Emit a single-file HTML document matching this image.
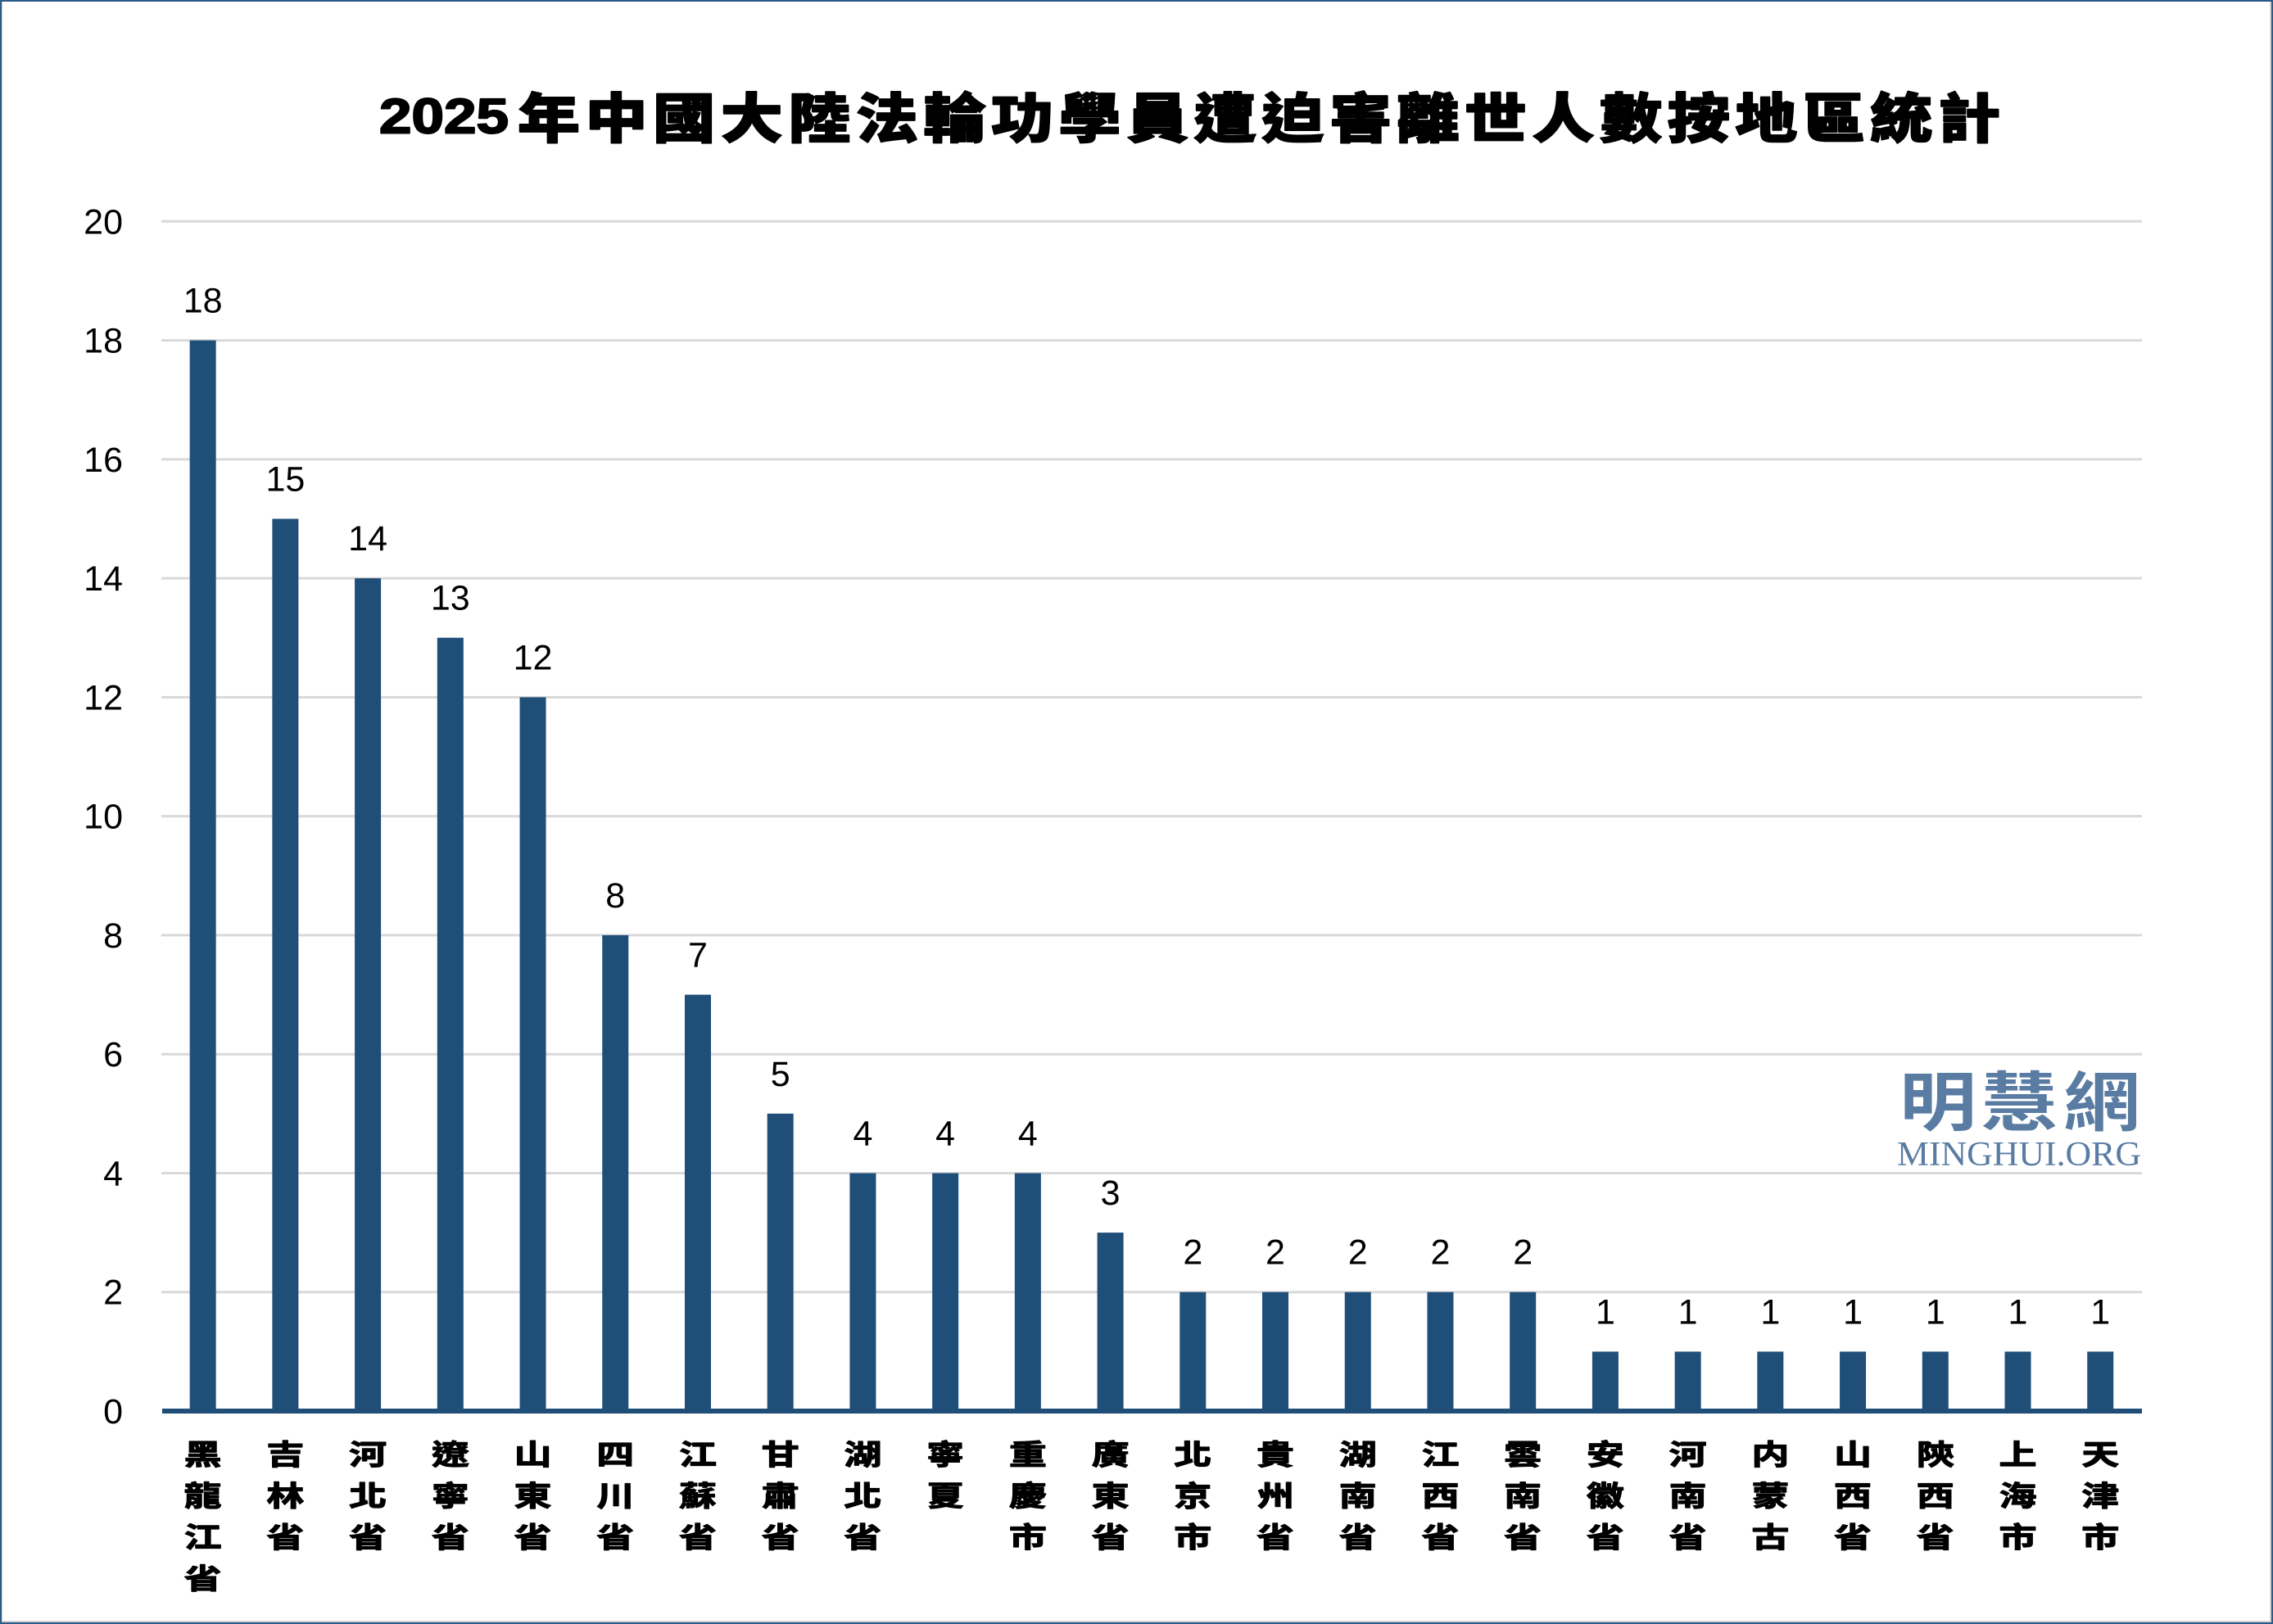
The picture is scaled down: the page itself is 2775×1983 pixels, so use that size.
<!DOCTYPE html>
<html><head><meta charset="utf-8"><style>
html,body{margin:0;padding:0;background:#fff;}
svg{display:block;}
</style></head><body>
<svg width="2775" height="1983" viewBox="0 0 2775 1983" xmlns="http://www.w3.org/2000/svg">
<rect x="0" y="0" width="2775" height="1983" fill="#ffffff"/>
<!-- border -->
<rect x="2771" y="0" width="2" height="1983" fill="#d4d4d4"/>
<rect x="0" y="1979" width="2775" height="2" fill="#d4d4d4"/>
<rect x="2" y="0" width="1" height="1983" fill="#d4d4d4"/>
<rect x="1" y="1" width="2773" height="1981" fill="none" stroke="#2a5a88" stroke-width="2"/>

<!-- title -->
<text x="463" y="162.7" font-family="'Liberation Sans', sans-serif" font-weight="700" font-size="60" textLength="158" lengthAdjust="spacingAndGlyphs" fill="#000" stroke="#000" stroke-width="2" stroke-linejoin="round">2025</text>
<g transform="scale(1,0.86)">
<text y="195.16" x="670 752.57 835.14 917.71 1000.28 1082.85 1165.42 1247.99 1330.56 1413.13 1495.7 1578.27 1660.84 1743.41 1825.98 1908.55 1991.12 2073.69 2156.26 2238.83 2321.4 2403.97" text-anchor="middle" font-family="'Liberation Sans','Noto Sans CJK TC',sans-serif" font-weight="900" font-size="76" fill="#000" stroke="#000" stroke-width="2" stroke-linejoin="round">年中國大陸法輪功學員遭迫害離世人數按地區統計</text>
</g>

<!-- gridlines -->
<g stroke="#d9d9d9" stroke-width="3">
<line x1="197" y1="270.3" x2="2615" y2="270.3"/>
<line x1="197" y1="415.57" x2="2615" y2="415.57"/>
<line x1="197" y1="560.84" x2="2615" y2="560.84"/>
<line x1="197" y1="706.11" x2="2615" y2="706.11"/>
<line x1="197" y1="851.38" x2="2615" y2="851.38"/>
<line x1="197" y1="996.65" x2="2615" y2="996.65"/>
<line x1="197" y1="1141.92" x2="2615" y2="1141.92"/>
<line x1="197" y1="1287.19" x2="2615" y2="1287.19"/>
<line x1="197" y1="1432.46" x2="2615" y2="1432.46"/>
<line x1="197" y1="1577.73" x2="2615" y2="1577.73"/>
</g>

<!-- y tick labels -->
<g font-family="'Liberation Sans', sans-serif" font-size="43" fill="#000" text-anchor="end">
<text x="150" y="285.3">20</text>
<text x="150" y="430.6">18</text>
<text x="150" y="575.8">16</text>
<text x="150" y="721.1">14</text>
<text x="150" y="866.4">12</text>
<text x="150" y="1011.7">10</text>
<text x="150" y="1156.9">8</text>
<text x="150" y="1302.2">6</text>
<text x="150" y="1447.5">4</text>
<text x="150" y="1592.7">2</text>
<text x="150" y="1738">0</text>
</g>

<!-- watermark -->
<g transform="scale(1,0.84)">
<text y="1635.7" x="2366 2465 2566" text-anchor="middle" font-family="'Noto Sans CJK TC',sans-serif" font-weight="700" font-size="94" fill="#5a7ca3">明慧網</text>
</g>
<text x="2316" y="1423" font-family="'Liberation Serif', serif" font-size="42" textLength="298" lengthAdjust="spacingAndGlyphs" fill="#5a7ca3">MINGHUI.ORG</text>

<!-- bars -->
<g fill="#1f4e79">
<rect x="231.66" y="415.6" width="32" height="1307.4"/>
<rect x="332.38" y="633.5" width="32" height="1089.5"/>
<rect x="433.1" y="706.1" width="32" height="1016.9"/>
<rect x="533.82" y="778.7" width="32" height="944.3"/>
<rect x="634.54" y="851.4" width="32" height="871.6"/>
<rect x="735.26" y="1141.9" width="32" height="581.1"/>
<rect x="835.98" y="1214.6" width="32" height="508.4"/>
<rect x="936.7" y="1359.8" width="32" height="363.2"/>
<rect x="1037.42" y="1432.5" width="32" height="290.5"/>
<rect x="1138.14" y="1432.5" width="32" height="290.5"/>
<rect x="1238.86" y="1432.5" width="32" height="290.5"/>
<rect x="1339.58" y="1505.1" width="32" height="217.9"/>
<rect x="1440.3" y="1577.7" width="32" height="145.3"/>
<rect x="1541.02" y="1577.7" width="32" height="145.3"/>
<rect x="1641.74" y="1577.7" width="32" height="145.3"/>
<rect x="1742.46" y="1577.7" width="32" height="145.3"/>
<rect x="1843.18" y="1577.7" width="32" height="145.3"/>
<rect x="1943.9" y="1650.4" width="32" height="72.6"/>
<rect x="2044.62" y="1650.4" width="32" height="72.6"/>
<rect x="2145.34" y="1650.4" width="32" height="72.6"/>
<rect x="2246.06" y="1650.4" width="32" height="72.6"/>
<rect x="2346.78" y="1650.4" width="32" height="72.6"/>
<rect x="2447.5" y="1650.4" width="32" height="72.6"/>
<rect x="2548.22" y="1650.4" width="32" height="72.6"/>
</g>
<!-- axis line -->
<rect x="198" y="1720" width="2417" height="6" fill="#1f4e79"/>

<!-- data labels -->
<g font-family="'Liberation Sans', sans-serif" font-size="43" fill="#000" text-anchor="middle">
<text x="247.66" y="381.6">18</text>
<text x="348.38" y="599.5">15</text>
<text x="449.1" y="672.1">14</text>
<text x="549.82" y="744.7">13</text>
<text x="650.54" y="817.4">12</text>
<text x="751.26" y="1107.9">8</text>
<text x="851.98" y="1180.6">7</text>
<text x="952.7" y="1325.8">5</text>
<text x="1053.42" y="1398.5">4</text>
<text x="1154.14" y="1398.5">4</text>
<text x="1254.86" y="1398.5">4</text>
<text x="1355.58" y="1471.1">3</text>
<text x="1456.3" y="1543.7">2</text>
<text x="1557.02" y="1543.7">2</text>
<text x="1657.74" y="1543.7">2</text>
<text x="1758.46" y="1543.7">2</text>
<text x="1859.18" y="1543.7">2</text>
<text x="1959.9" y="1616.4">1</text>
<text x="2060.62" y="1616.4">1</text>
<text x="2161.34" y="1616.4">1</text>
<text x="2262.06" y="1616.4">1</text>
<text x="2362.78" y="1616.4">1</text>
<text x="2463.5" y="1616.4">1</text>
<text x="2564.22" y="1616.4">1</text>
</g>

<!-- x category labels (vertical) -->
<g transform="scale(1,0.75)" font-family="'Noto Sans CJK TC','Noto Sans CJK SC',sans-serif" font-weight="700" font-size="46" fill="#000" stroke="#000" stroke-width="1.5" stroke-linejoin="round" text-anchor="middle">
<text x="247.66 247.66 247.66 247.66" y="2384.8 2452 2519.2 2586.4">黑龍江省</text>
<text x="348.38 348.38 348.38" y="2384.8 2452 2519.2">吉林省</text>
<text x="449.1 449.1 449.1" y="2384.8 2452 2519.2">河北省</text>
<text x="549.82 549.82 549.82" y="2384.8 2452 2519.2">遼寧省</text>
<text x="650.54 650.54 650.54" y="2384.8 2452 2519.2">山東省</text>
<text x="751.26 751.26 751.26" y="2384.8 2452 2519.2">四川省</text>
<text x="851.98 851.98 851.98" y="2384.8 2452 2519.2">江蘇省</text>
<text x="952.7 952.7 952.7" y="2384.8 2452 2519.2">甘肅省</text>
<text x="1053.42 1053.42 1053.42" y="2384.8 2452 2519.2">湖北省</text>
<text x="1154.14 1154.14" y="2384.8 2452">寧夏</text>
<text x="1254.86 1254.86 1254.86" y="2384.8 2452 2519.2">重慶市</text>
<text x="1355.58 1355.58 1355.58" y="2384.8 2452 2519.2">廣東省</text>
<text x="1456.3 1456.3 1456.3" y="2384.8 2452 2519.2">北京市</text>
<text x="1557.02 1557.02 1557.02" y="2384.8 2452 2519.2">貴州省</text>
<text x="1657.74 1657.74 1657.74" y="2384.8 2452 2519.2">湖南省</text>
<text x="1758.46 1758.46 1758.46" y="2384.8 2452 2519.2">江西省</text>
<text x="1859.18 1859.18 1859.18" y="2384.8 2452 2519.2">雲南省</text>
<text x="1959.9 1959.9 1959.9" y="2384.8 2452 2519.2">安徽省</text>
<text x="2060.62 2060.62 2060.62" y="2384.8 2452 2519.2">河南省</text>
<text x="2161.34 2161.34 2161.34" y="2384.8 2452 2519.2">内蒙古</text>
<text x="2262.06 2262.06 2262.06" y="2384.8 2452 2519.2">山西省</text>
<text x="2362.78 2362.78 2362.78" y="2384.8 2452 2519.2">陝西省</text>
<text x="2463.5 2463.5 2463.5" y="2384.8 2452 2519.2">上海市</text>
<text x="2564.22 2564.22 2564.22" y="2384.8 2452 2519.2">天津市</text>
</g>
</svg>
</body></html>
